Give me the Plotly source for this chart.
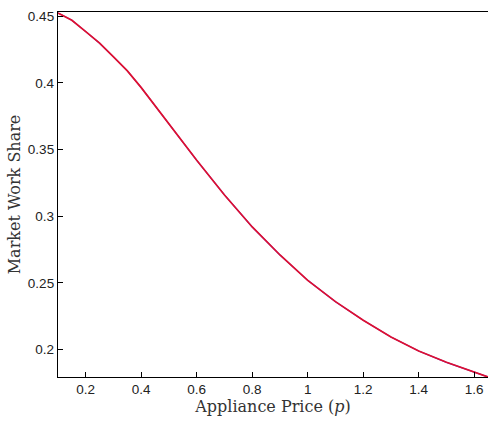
import plotly.graph_objects as go

# Appliance price grid and the resulting market work share
price = [0.1, 0.15, 0.2, 0.25, 0.3, 0.35, 0.4, 0.5, 0.6, 0.7, 0.8, 0.9,
         1.0, 1.1, 1.2, 1.3, 1.4, 1.5, 1.6, 1.65]
share = [0.4525, 0.4470, 0.4385, 0.4298, 0.4195, 0.4090, 0.3965, 0.3695,
         0.3420, 0.3160, 0.2920, 0.2710, 0.2520, 0.2360, 0.2220, 0.2095,
         0.1990, 0.1905, 0.1830, 0.1795]

x_ticks = [0.2, 0.4, 0.6, 0.8, 1.0, 1.2, 1.4, 1.6]
y_ticks = [0.2, 0.25, 0.3, 0.35, 0.4, 0.45]

title_font = dict(family="DejaVu Serif", size=16, color="#333")

fig = go.Figure()
# two solutions drawn on top of each other (blue underneath, red on top)
fig.add_trace(go.Scatter(x=price, y=share, mode="lines",
                         line=dict(color="#2b2bff", width=1.2), showlegend=False))
fig.add_trace(go.Scatter(x=price, y=share, mode="lines",
                         line=dict(color="#e0102e", width=1.7), showlegend=False))

axis_common = dict(
    showline=True, linecolor="black", linewidth=1.3, mirror=True,
    ticks="inside", ticklen=5, tickwidth=1, tickcolor="black",
    showgrid=False, zeroline=False,
    tickfont=dict(family="Liberation Sans", size=13.5, color="#222"),
)

fig.update_layout(
    width=488, height=424,
    margin=dict(l=57.5, r=0, t=12, b=46.7, autoexpand=False),
    plot_bgcolor="white", paper_bgcolor="white",
    xaxis=dict(range=[0.1, 1.6497], tickvals=x_ticks,
               ticktext=["0.2", "0.4", "0.6", "0.8", "1", "1.2", "1.4", "1.6"],
               title=dict(text="Appliance Price (<i>p</i>)", standoff=4,
                          font=title_font),
               **axis_common),
    yaxis=dict(range=[0.1795, 0.4532], tickvals=y_ticks,
               ticktext=["0.2", "0.25", "0.3", "0.35", "0.4", "0.45"],
               title=dict(text="Market Work Share", standoff=3,
                          font=title_font),
               **axis_common),
)

fig.write_html("out.html")
